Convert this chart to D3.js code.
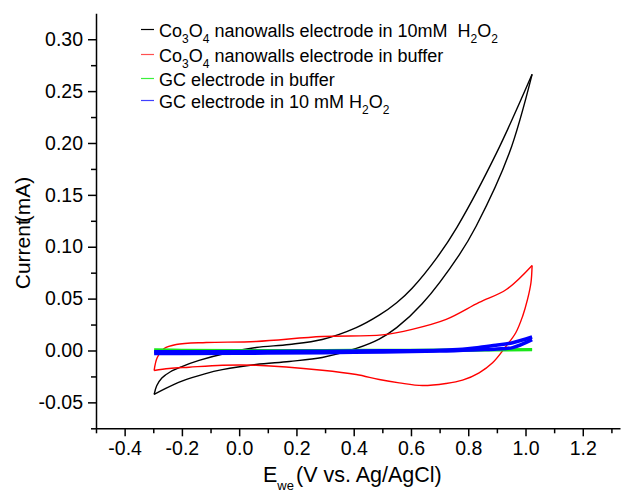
<!DOCTYPE html>
<html><head><meta charset="utf-8">
<script src="https://cdn.jsdelivr.net/npm/d3@7"></script>
<style>
body{margin:0;background:#fff}
svg{display:block}
text{font-family:"Liberation Sans",Arial,Helvetica,sans-serif;fill:#000}
</style>
</head><body>
<svg id="chart" width="621" height="492"></svg>
<script>
// ---------- data ----------
const xMajorTicks = [-0.4, -0.2, 0.0, 0.2, 0.4, 0.6, 0.8, 1.0, 1.2];
const xMinorTicks = [-0.5, -0.3, -0.1, 0.1, 0.3, 0.5, 0.7, 0.9, 1.1, 1.3];
const yMajorTicks = [-0.05, 0.00, 0.05, 0.10, 0.15, 0.20, 0.25, 0.30];
const yMinorTicks = [-0.075, -0.025, 0.025, 0.075, 0.125, 0.175, 0.225, 0.275];

const seriesColors = ["#000000", "#ff0000", "#19e619", "#0000ff"];
const legendColors = ["#000000", "#ff5050", "#3cf03c", "#4040ff"];

// Co3O4 nanowalls in 10 mM H2O2 (black)
const coH2O2UpperE = [-0.297,-0.288,-0.270,-0.240,-0.200,-0.140,-0.035,0.059,0.175,0.290,0.409,0.489,0.550,0.604,0.692,0.761,0.898,1.023];
const coH2O2UpperI = [-0.0424,-0.0340,-0.0265,-0.0205,-0.0155,-0.0096,-0.0019,0.0029,0.0058,0.0106,0.0220,0.0340,0.0460,0.0600,0.0900,0.1190,0.1900,0.2662];
const coH2O2LowerE = [-0.297,-0.260,-0.200,-0.120,-0.059,0.059,0.175,0.290,0.409,0.489,0.550,0.639,0.768,0.828,0.943,1.023];
const coH2O2LowerI = [-0.0424,-0.0370,-0.0295,-0.0225,-0.0185,-0.0135,-0.0106,-0.0068,0.0020,0.0110,0.0220,0.0450,0.0920,0.1200,0.1900,0.2662];

// Co3O4 nanowalls in buffer (red)
const coBufUpperE = [-0.297,-0.286,-0.262,-0.220,-0.115,0.059,0.290,0.500,0.604,0.723,0.838,0.933,1.023];
const coBufUpperI = [-0.0193,-0.0068,0.0019,0.0058,0.0077,0.0087,0.0135,0.0150,0.0203,0.0299,0.0463,0.0588,0.0820];
const coBufLowerE = [1.023,1.019,1.007,0.990,0.966,0.932,0.885,0.838,0.780,0.722,0.640,0.559,0.489,0.409,0.290,0.059,-0.059,-0.175,-0.245,-0.297];
const coBufLowerI = [0.0820,0.0653,0.0492,0.0331,0.0171,0.0041,-0.0119,-0.0215,-0.0286,-0.0318,-0.0338,-0.0312,-0.0280,-0.0232,-0.0190,-0.0142,-0.0142,-0.0161,-0.0174,-0.0193];

// GC in buffer (green)
const gcBufUpperE = [-0.297,-0.2,0.0,0.3,0.6,0.85,1.023];
const gcBufUpperI = [0.0008,0.0005,0.0003,0.0003,0.0005,0.0008,0.0012];
const gcBufLowerE = [1.023,0.8,0.5,0.2,-0.1,-0.297];
const gcBufLowerI = [0.0006,0.0000,-0.0005,-0.0008,-0.0010,-0.0012];

// GC in 10 mM H2O2 (blue)
const gcH2O2UpperE = [-0.297,-0.1,0.2,0.5,0.7,0.78,0.838,0.897,0.955,1.023];
const gcH2O2UpperI = [-0.0012,-0.0012,-0.0008,-0.0003,0.0002,0.0012,0.0030,0.0050,0.0075,0.0130];
const gcH2O2LowerE = [1.023,0.955,0.9,0.838,0.7,0.4,0.1,-0.2,-0.297];
const gcH2O2LowerI = [0.0105,0.0028,0.0015,0.0008,-0.0005,-0.0018,-0.0025,-0.0028,-0.0028];

// ---------- chart ----------
const svg = d3.select("#chart");
const x = d3.scaleLinear().domain([-0.5, 1.33]).range([96, 620]);
const y = d3.scaleLinear().domain([-0.075, 0.325]).range([428.3, 13.3]);

const zip = (E, I) => E.map((e, i) => [e, I[i]]);
const line = d3.line().x(d => x(d[0])).y(d => y(d[1])).curve(d3.curveCatmullRom.alpha(0.5));

const series = [
  {branches: [zip(coH2O2UpperE, coH2O2UpperI), zip(coH2O2LowerE, coH2O2LowerI)], color: seriesColors[0], w: 1.4},
  {branches: [zip(coBufUpperE, coBufUpperI), zip(coBufLowerE, coBufLowerI)], color: seriesColors[1], w: 1.4},
  {branches: [zip(gcBufUpperE, gcBufUpperI), zip(gcBufLowerE, gcBufLowerI)], color: seriesColors[2], w: 2.6},
  {branches: [zip(gcH2O2UpperE, gcH2O2UpperI), zip(gcH2O2LowerE, gcH2O2LowerI)], color: seriesColors[3], w: 3.5}
];

const gLines = svg.append("g");
series.forEach(s => {
  s.branches.forEach(b => {
    gLines.append("path").attr("d", line(b)).attr("fill", "none")
      .attr("stroke", s.color).attr("stroke-width", s.w).attr("stroke-linejoin", "round");
  });
});

// axes
const axisW = 1.5;
const gx = svg.append("g").attr("transform", `translate(0,${y.range()[0]})`);
gx.call(d3.axisBottom(x).tickValues(xMajorTicks).tickSize(8).tickSizeOuter(0).tickPadding(5)
  .tickFormat(d => d.toFixed(1)));
gx.append("g").call(d3.axisBottom(x).tickValues(xMinorTicks).tickSize(5).tickFormat(""))
  .select(".domain").remove();
gx.selectAll("path,line").attr("stroke", "#000").attr("stroke-width", axisW);
gx.selectAll("text").attr("font-size", 19.5).attr("font-family", "Liberation Sans, Arial, sans-serif");

const gy = svg.append("g").attr("transform", `translate(${x.range()[0]},0)`);
gy.call(d3.axisLeft(y).tickValues(yMajorTicks).tickSize(8).tickSizeOuter(0).tickPadding(5)
  .tickFormat(d => d.toFixed(2)));
gy.append("g").call(d3.axisLeft(y).tickValues(yMinorTicks).tickSize(5).tickFormat(""))
  .select(".domain").remove();
gy.selectAll("path,line").attr("stroke", "#000").attr("stroke-width", axisW);
gy.selectAll("text").attr("font-size", 19.5).attr("font-family", "Liberation Sans, Arial, sans-serif");

// axis titles
const xt = svg.append("text").attr("x", 263).attr("y", 481.5).attr("font-size", 21.5);
xt.append("tspan").text("E");
xt.append("tspan").attr("font-size", 13).attr("dy", 8).text("we");
xt.append("tspan").attr("dy", -8).attr("dx", 2).text("(V vs. Ag/AgCl)");

const yt = svg.append("text").attr("transform", "translate(30,233) rotate(-90)")
  .attr("text-anchor", "middle").attr("font-size", 21);
yt.append("tspan").text("Current");
yt.append("tspan").attr("dx", -3).text("(mA)");

// legend
const legendRows = [
  [["Co",0],["3",1],["O",0],["4",1],[" nanowalls electrode in 10mM  H",0],["2",1],["O",0],["2",1]],
  [["Co",0],["3",1],["O",0],["4",1],[" nanowalls electrode in buffer",0]],
  [["GC electrode in buffer",0]],
  [["GC electrode in 10 mM H",0],["2",1],["O",0],["2",1]]
];
const legendY = [29.5, 54.5, 78.5, 100.5];
const gLeg = svg.append("g");
legendRows.forEach((row, i) => {
  const ly = legendY[i];
  gLeg.append("line").attr("x1", 141).attr("x2", 154).attr("y1", ly).attr("y2", ly)
    .attr("stroke", legendColors[i]).attr("stroke-width", 1.2);
  const t = gLeg.append("text").attr("x", 159).attr("y", ly + 7).attr("font-size", 18)
    .attr("xml:space", "preserve").style("white-space", "pre");
  let sub = 0;
  row.forEach(([txt, s]) => {
    const ts = t.append("tspan").text(txt);
    if (s && !sub) { ts.attr("dy", 6).attr("font-size", 12); sub = 1; }
    else if (s && sub) { ts.attr("font-size", 12); }
    else if (!s && sub) { ts.attr("dy", -6); sub = 0; }
  });
});
</script>
</body></html>
